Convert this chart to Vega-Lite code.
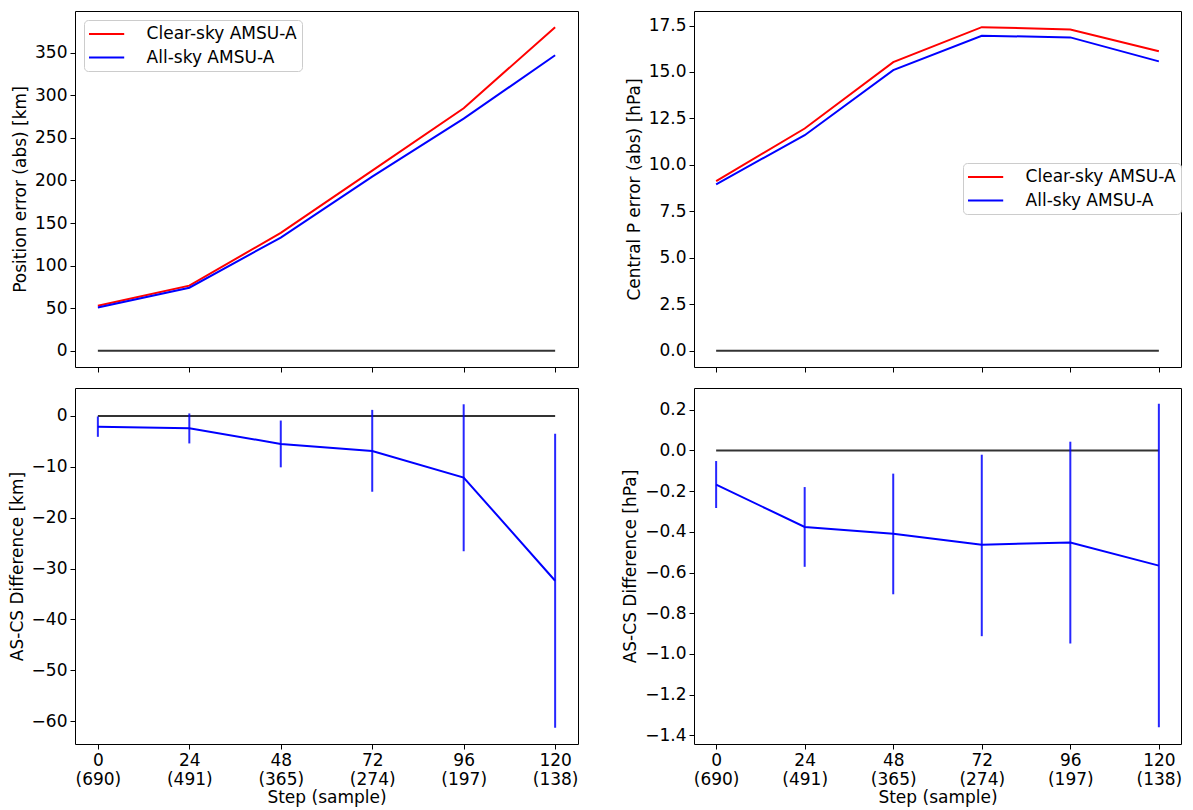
{
  "$schema": "https://vega.github.io/schema/vega-lite/v6.json",
  "padding": {"left": 7, "top": 10, "right": 5, "bottom": 5},
  "background": "#ffffff",
  "config": {
    "font": "DejaVu Sans",
    "view": {"stroke": "#000", "strokeWidth": 1},
    "axis": {"domain": false, "grid": false, "ticks": true, "tickColor": "#000", "tickSize": 5, "tickWidth": 1,
      "labelFont": "DejaVu Sans", "labelFontSize": 17, "labelColor": "#000", "labelPadding": 3,
      "titleFont": "DejaVu Sans", "titleFontSize": 17, "titleFontWeight": "normal", "titleColor": "#000", "titlePadding": 5},
    "legend": {"fillColor": "#fff", "strokeColor": "#ccc", "cornerRadius": 4, "padding": 5,
      "symbolType": "M-2.2,0H2.2", "symbolSize": 256, "symbolStrokeWidth": 2, "symbolOffset": 8.6,
      "labelFont": "DejaVu Sans", "labelFontSize": 17, "labelColor": "#000", "labelOffset": 31, "rowPadding": 6.5}
  },
  "datasets": {
    "abs": [
      {"step": 0, "series": "Clear-sky AMSU-A", "pos": 53.0, "cp": 9.13},
      {"step": 24, "series": "Clear-sky AMSU-A", "pos": 76.5, "cp": 11.96},
      {"step": 48, "series": "Clear-sky AMSU-A", "pos": 138.5, "cp": 15.53},
      {"step": 72, "series": "Clear-sky AMSU-A", "pos": 211.5, "cp": 17.41},
      {"step": 96, "series": "Clear-sky AMSU-A", "pos": 284.8, "cp": 17.29},
      {"step": 120, "series": "Clear-sky AMSU-A", "pos": 380.0, "cp": 16.12},
      {"step": 0, "series": "All-sky AMSU-A", "pos": 50.8, "cp": 8.96},
      {"step": 24, "series": "All-sky AMSU-A", "pos": 74.1, "cp": 11.6},
      {"step": 48, "series": "All-sky AMSU-A", "pos": 133.0, "cp": 15.1},
      {"step": 72, "series": "All-sky AMSU-A", "pos": 204.6, "cp": 16.95},
      {"step": 96, "series": "All-sky AMSU-A", "pos": 272.6, "cp": 16.86},
      {"step": 120, "series": "All-sky AMSU-A", "pos": 347.0, "cp": 15.57}
    ],
    "diff": [
      {"step": 0, "km": -2.1, "km_lo": -4.1, "km_hi": -0.1, "hpa": -0.168, "hpa_lo": -0.283, "hpa_hi": -0.052},
      {"step": 24, "km": -2.4, "km_lo": -5.4, "km_hi": 0.5, "hpa": -0.376, "hpa_lo": -0.572, "hpa_hi": -0.18},
      {"step": 48, "km": -5.5, "km_lo": -10.1, "km_hi": -0.9, "hpa": -0.409, "hpa_lo": -0.707, "hpa_hi": -0.114},
      {"step": 72, "km": -6.9, "km_lo": -14.9, "km_hi": 1.2, "hpa": -0.463, "hpa_lo": -0.913, "hpa_hi": -0.021},
      {"step": 96, "km": -12.1, "km_lo": -26.6, "km_hi": 2.3, "hpa": -0.453, "hpa_lo": -0.949, "hpa_hi": 0.043},
      {"step": 120, "km": -32.4, "km_lo": -61.3, "km_hi": -3.5, "hpa": -0.566, "hpa_lo": -1.361, "hpa_hi": 0.229}
    ]
  },
  "columns": 2,
  "spacing": {"column": 42, "row": 14},
  "resolve": {"scale": {"x": "independent", "y": "independent", "color": "independent"}, "legend": {"color": "independent"}},
  "concat": [
    {
      "width": 503, "height": 356,
      "layer": [
        {
          "data": {"values": [{}]},
          "mark": {"type": "rule", "color": "#333", "strokeWidth": 2},
          "encoding": {
            "x": {"datum": 0, "type": "quantitative", "scale": {"domain": [-6, 126], "nice": false, "zero": false},
              "axis": {"values": [0, 24, 48, 72, 96, 120], "labels": false, "title": null}},
            "x2": {"datum": 120},
            "y": {"datum": 0, "type": "quantitative", "scale": {"domain": [-19, 399], "nice": false, "zero": false},
              "axis": {"values": [0, 50, 100, 150, 200, 250, 300, 350], "title": "Position error (abs) [km]"}}
          }
        },
        {
          "data": {"name": "abs"},
          "mark": {"type": "line", "strokeWidth": 2},
          "encoding": {
            "x": {"field": "step", "type": "quantitative"},
            "y": {"field": "pos", "type": "quantitative"},
            "color": {"field": "series", "type": "nominal",
              "scale": {"domain": ["Clear-sky AMSU-A", "All-sky AMSU-A"], "range": ["#ff0000", "#0000ff"]},
              "legend": {"title": null, "orient": "none", "legendX": 9, "legendY": 9}}
          }
        }
      ]
    },
    {
      "width": 487, "height": 356,
      "layer": [
        {
          "data": {"values": [{}]},
          "mark": {"type": "rule", "color": "#333", "strokeWidth": 2},
          "encoding": {
            "x": {"datum": 0, "type": "quantitative", "scale": {"domain": [-6, 126], "nice": false, "zero": false},
              "axis": {"values": [0, 24, 48, 72, 96, 120], "labels": false, "title": null}},
            "x2": {"datum": 120},
            "y": {"datum": 0, "type": "quantitative", "scale": {"domain": [-0.87, 18.28], "nice": false, "zero": false},
              "axis": {"values": [0, 2.5, 5, 7.5, 10, 12.5, 15, 17.5], "format": ".1f", "title": "Central P error (abs) [hPa]"}}
          }
        },
        {
          "data": {"name": "abs"},
          "mark": {"type": "line", "strokeWidth": 2},
          "encoding": {
            "x": {"field": "step", "type": "quantitative"},
            "y": {"field": "cp", "type": "quantitative"},
            "color": {"field": "series", "type": "nominal",
              "scale": {"domain": ["Clear-sky AMSU-A", "All-sky AMSU-A"], "range": ["#ff0000", "#0000ff"]},
              "legend": {"title": null, "orient": "none", "legendX": 269, "legendY": 152}}
          }
        }
      ]
    },
    {
      "width": 503, "height": 356,
      "layer": [
        {
          "data": {"values": [{}]},
          "mark": {"type": "rule", "color": "#333", "strokeWidth": 2},
          "encoding": {
            "x": {"datum": 0, "type": "quantitative", "scale": {"domain": [-6, 126], "nice": false, "zero": false},
              "axis": {"values": [0, 24, 48, 72, 96, 120], "title": "Step (sample)", "labelFlush": false, "labelLineHeight": 19, "titlePadding": 2,
                "labelExpr": "[datum.label, ['(690)','(491)','(365)','(274)','(197)','(138)'][round(datum.value/24)]]"}},
            "x2": {"datum": 120},
            "y": {"datum": 0, "type": "quantitative", "scale": {"domain": [-64.5, 5.5], "nice": false, "zero": false},
              "axis": {"values": [-60, -50, -40, -30, -20, -10, 0], "title": "AS-CS Difference [km]"}}
          }
        },
        {
          "data": {"name": "diff"},
          "mark": {"type": "line", "strokeWidth": 2, "color": "#0000ff"},
          "encoding": {
            "x": {"field": "step", "type": "quantitative"},
            "y": {"field": "km", "type": "quantitative"}
          }
        },
        {
          "data": {"name": "diff"},
          "mark": {"type": "rule", "strokeWidth": 2, "color": "#0000ff", "opacity": 0.85},
          "encoding": {
            "x": {"field": "step", "type": "quantitative"},
            "y": {"field": "km_lo", "type": "quantitative"},
            "y2": {"field": "km_hi"}
          }
        }
      ]
    },
    {
      "width": 487, "height": 356,
      "layer": [
        {
          "data": {"values": [{}]},
          "mark": {"type": "rule", "color": "#333", "strokeWidth": 2},
          "encoding": {
            "x": {"datum": 0, "type": "quantitative", "scale": {"domain": [-6, 126], "nice": false, "zero": false},
              "axis": {"values": [0, 24, 48, 72, 96, 120], "title": "Step (sample)", "labelFlush": false, "labelLineHeight": 19, "titlePadding": 2,
                "labelExpr": "[datum.label, ['(690)','(491)','(365)','(274)','(197)','(138)'][round(datum.value/24)]]"}},
            "x2": {"datum": 120},
            "y": {"datum": 0, "type": "quantitative", "scale": {"domain": [-1.443, 0.307], "nice": false, "zero": false},
              "axis": {"values": [-1.4, -1.2, -1.0, -0.8, -0.6, -0.4, -0.2, 0.0, 0.2], "format": ".1f", "title": "AS-CS Difference [hPa]"}}
          }
        },
        {
          "data": {"name": "diff"},
          "mark": {"type": "line", "strokeWidth": 2, "color": "#0000ff"},
          "encoding": {
            "x": {"field": "step", "type": "quantitative"},
            "y": {"field": "hpa", "type": "quantitative"}
          }
        },
        {
          "data": {"name": "diff"},
          "mark": {"type": "rule", "strokeWidth": 2, "color": "#0000ff", "opacity": 0.85},
          "encoding": {
            "x": {"field": "step", "type": "quantitative"},
            "y": {"field": "hpa_lo", "type": "quantitative"},
            "y2": {"field": "hpa_hi"}
          }
        }
      ]
    }
  ]
}
